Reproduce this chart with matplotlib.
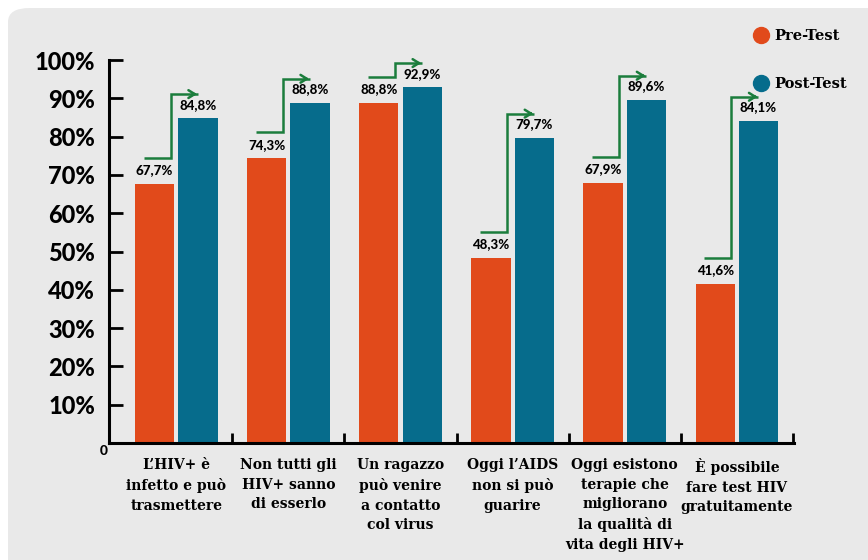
import matplotlib
matplotlib.use("Agg")
import matplotlib.pyplot as plt
from matplotlib.patches import FancyBboxPatch
from matplotlib.lines import Line2D
import numpy as np

categories = [
    "L\u2019HIV+ \u00e8\ninfetto e pu\u00f2\ntrasmettere",
    "Non tutti gli\nHIV+ sanno\ndi esserlo",
    "Un ragazzo\npu\u00f2 venire\na contatto\ncol virus",
    "Oggi l\u2019AIDS\nnon si pu\u00f2\nguarire",
    "Oggi esistono\nterapie che\nmigliorano\nla qualit\u00e0 di\nvita degli HIV+",
    "\u00c8 possibile\nfare test HIV\ngratuitamente",
]
pre_test = [67.7, 74.3, 88.8, 48.3, 67.9, 41.6]
post_test = [84.8, 88.8, 92.9, 79.7, 89.6, 84.1]
show_arrow = [True, True, True, True, True, True]
yticks = [10, 20, 30, 40, 50, 60, 70, 80, 90, 100]

ORANGE = "#e14a1b"
BLUE = "#066c8c"
GREEN = "#1b7d3c"
BG = "#e9e9e9"

fig = plt.figure(figsize=(8.68, 5.6), dpi=100)
fig.patch.set_facecolor("white")
panel = FancyBboxPatch((8 / 868, -0.2), 1.2, 1.2 - 8 / 560 + 0.0,
                       boxstyle="round,pad=0,rounding_size=0.025",
                       transform=fig.transFigure, facecolor=BG,
                       edgecolor="none", zorder=-10)
fig.patches.append(panel)

ax = fig.add_axes([109 / 868, 1 - 443 / 560, (794 - 109) / 868, (443 - 60) / 560])
ax.set_facecolor("none")
ax.set_zorder(5)

x = np.arange(len(categories))
w = 0.35
off = 0.193
ax.bar(x - off, pre_test, width=w, color=ORANGE, zorder=2)
ax.bar(x + off, post_test, width=w, color=BLUE, zorder=2)

lab_font = dict(family=["Lato", "DejaVu Sans"], weight="black", fontsize=9.5)
for i in range(len(x)):
    ax.text(x[i] - off, pre_test[i] + 2.0, f"{pre_test[i]:.1f}%".replace(".", ","),
            ha="center", va="bottom", **lab_font)
    ax.text(x[i] + off, post_test[i] + 2.0, f"{post_test[i]:.1f}%".replace(".", ","),
            ha="center", va="bottom", **lab_font)
    if show_arrow[i]:
        y0 = pre_test[i] + 6.8
        y1 = post_test[i] + 6.3
        xs = [x[i] - 0.29, x[i] - 0.05, x[i] - 0.05, x[i] + 0.19]
        ys = [y0, y0, y1, y1]
        ax.plot(xs, ys, color=GREEN, lw=1.8, solid_capstyle="butt",
                solid_joinstyle="miter", zorder=3)
        ax.annotate("", xy=(x[i] + 0.21, y1), xytext=(x[i] + 0.12, y1),
                    arrowprops=dict(arrowstyle="->,head_length=0.45,head_width=0.28",
                                    color=GREEN, lw=1.8), zorder=3)

ax.set_xlim(-0.6, 5.51)
ax.set_ylim(0, 100)
for s in ["top", "right"]:
    ax.spines[s].set_visible(False)
for s in ["left", "bottom"]:
    ax.spines[s].set_linewidth(2.2)
    ax.spines[s].set_color("black")

ax.set_yticks(yticks)
ax.set_yticklabels([f"{v}%" for v in yticks], fontsize=17, fontweight="black",
                   family=["Lato", "DejaVu Sans"])
ax.tick_params(axis="y", direction="in", length=10, width=2, pad=10)

ax.set_xticks(x)
ax.set_xticklabels(categories, family="DejaVu Serif", fontweight="bold",
                   fontsize=10, linespacing=1.5, va="top")
ax.tick_params(axis="x", which="major", length=0, pad=11)
ax.set_xticks(np.arange(0.5, 5.6, 1.0), minor=True)
ax.tick_params(axis="x", which="minor", direction="in", length=7, width=2)

ax.text(-0.008, -0.006, "0", transform=ax.transAxes, ha="center", va="top",
        fontsize=10, fontweight="black", family=["Lato", "DejaVu Sans"])

handles = [Line2D([], [], marker="o", ls="none", markersize=11.5, color=ORANGE),
           Line2D([], [], marker="o", ls="none", markersize=11.5, color=BLUE)]
leg = fig.legend(handles, ["Pre-Test", "Post-Test"], loc="upper left",
                 bbox_to_anchor=(739 / 868, 1 - 16 / 560), frameon=False,
                 labelspacing=2.3, handletextpad=0.3, handlelength=1.2,
                 prop=dict(family="DejaVu Serif", weight="bold", size=10.5))

fig.savefig("out.png", dpi=100, facecolor="white")
